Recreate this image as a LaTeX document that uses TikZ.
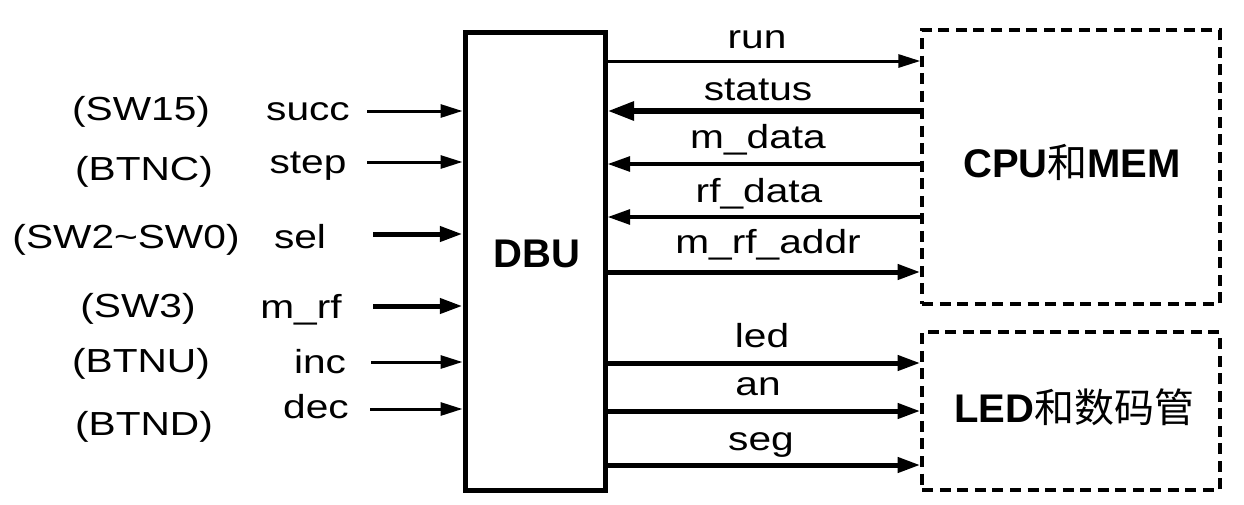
\documentclass[tikz,border=0pt]{standalone}
\usepackage{fontspec}
\setmainfont{Liberation Sans}
\newfontfamily\cjk{Noto Sans CJK SC}
\usepackage{tikz}
\usetikzlibrary{positioning,arrows.meta,calc}

\begin{document}
\begin{tikzpicture}[x=0.75pt, y=-0.75pt,
  lbl/.style={font=\fontsize{25}{30}\selectfont, xscale=1.22, anchor=base, inner sep=0pt},
  bigtxt/.style={font=\fontsize{30}{36}\selectfont\bfseries, anchor=base, inner sep=0pt},
  unitbox/.style={draw, line width=3.75pt, inner sep=0pt},
  extbox/.style={draw, line width=3pt, dash pattern=on 8.25pt off 4.9pt, inner sep=0pt},
  thinw/.style={line width=2.25pt, -{Triangle[length=16.5pt, width=9.75pt]}},
  midw/.style={line width=3pt, -{Triangle[length=17pt, width=11pt]}},
  thickw/.style={line width=3.75pt, -{Triangle[length=17pt, width=11pt]}},
  fatw/.style={line width=4.5pt, -{Triangle[length=20pt, width=13.5pt]}}]
\useasboundingbox (0,0) rectangle (1244,504);

% ================= blocks =================
\node[unitbox, minimum width=105pt, minimum height=343.5pt] (dbu) at (535,261) {};
\node[bigtxt] (dbutxt) at (537,267) {DBU};
\node[extbox, minimum width=223pt, minimum height=205.5pt] (cpu) at (1071,167) {};
\node[bigtxt] (cputxt) at (1072,177) {CPU{\cjk\mdseries 和}MEM};
\node[extbox, minimum width=223pt, minimum height=118.5pt] (ledbox) at (1071,411) {};
\node[bigtxt] (ledtxt) at (1074,422) {LED{\cjk\mdseries 和数码管}};

% ================= inputs (switches, buttons) =================
\foreach \key/\sig/\sw/\sigx/\sigy/\swx/\swy/\wy/\wx/\wst in {%
  succ/succ/(SW15)/308/120/141/120/111/367/thinw,
  step/step/(BTNC)/308/173/144/180/162/367/thinw,
  sel/sel/(SW2\textasciitilde SW0)/300/248/126/248/234/373/thickw,
  mrf/m\_rf/(SW3)/301/318/138/317/306/373/thickw,
  inc/inc/(BTNU)/320/373/141/372/362/371/thinw,
  dec/dec/(BTND)/316/418/144/435/409/370/thinw} {
  \node[lbl] (sig-\key) at (\sigx,\sigy) {\sig};
  \node[lbl] (sw-\key) at (\swx,\swy) {\sw};
  \coordinate (in-\key) at (\wx,\wy);
  \draw[\wst] (in-\key) -- (in-\key -| dbu.west);
}

% ================= DBU <-> CPU and MEM =================
\foreach \key/\txt/\tx/\ty/\wy/\from/\to/\wst in {%
  run/run/757/48/61/dbu.east/cpu.west/thinw,
  status/status/758/100/111/cpu.west/dbu.east/fatw,
  mdata/m\_data/758/148/164/cpu.west/dbu.east/midw,
  rfdata/rf\_data/759/202/217/cpu.west/dbu.east/midw,
  addr/m\_rf\_addr/768/253/272/dbu.east/cpu.west/thickw} {
  \node[lbl] (out-\key) at (\tx,\ty) {\txt};
  \coordinate (w-\key) at (0,\wy);
  \draw[\wst] (\from |- w-\key) -- (\to |- w-\key);
}

% ================= DBU -> LED and 7-seg =================
\foreach \key/\txt/\tx/\ty/\wy in {%
  led/led/762/347/363, an/an/758/395/411, seg/seg/761/450/465} {
  \node[lbl] (out-\key) at (\tx,\ty) {\txt};
  \coordinate (w-\key) at (0,\wy);
  \draw[thickw] (dbu.east |- w-\key) -- (ledbox.west |- w-\key);
}
\end{tikzpicture}
\end{document}
